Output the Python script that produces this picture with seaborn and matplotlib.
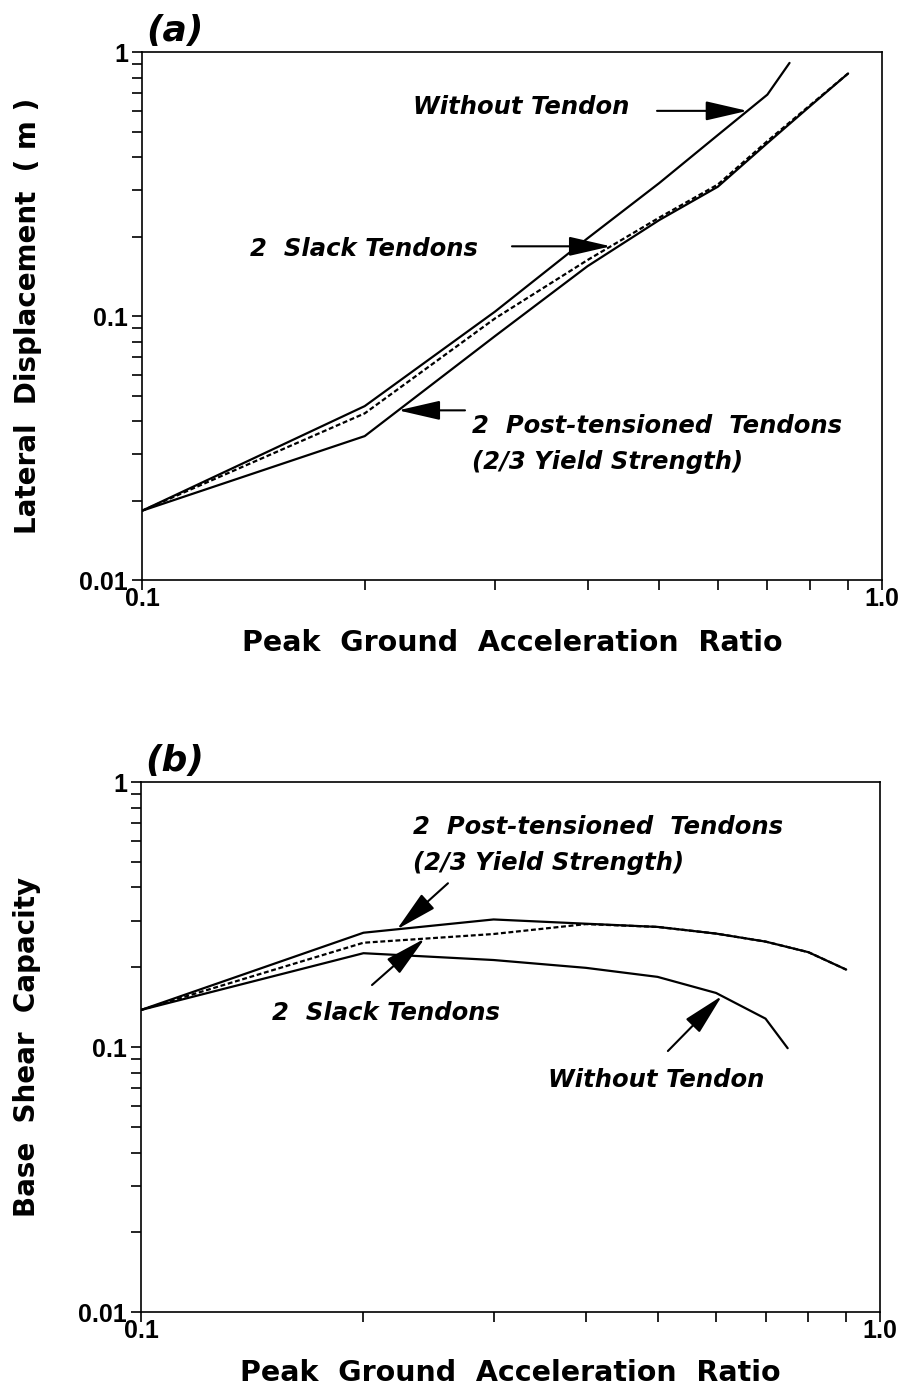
import matplotlib
matplotlib.use("Agg")

import matplotlib.pyplot as plt
import matplotlib.transforms as mtransforms
import numpy as np
import pandas as pd
import seaborn as sns
from matplotlib.ticker import LogLocator, NullFormatter

# peak ground acceleration ratios
PGA = [0.1, 0.2, 0.3, 0.4, 0.5, 0.6, 0.7, 0.8, 0.9]
PGA_NONE = [0.1, 0.2, 0.3, 0.4, 0.5, 0.6, 0.7, 0.75]

# (a) lateral displacement (m)
DISP_NONE = [0.0183, 0.0456, 0.104, 0.197, 0.319, 0.485, 0.69, 0.91]
DISP_SLACK = [0.0183, 0.0428, 0.098, 0.163, 0.236, 0.315, 0.46, 0.63, 0.83]
DISP_POST = [0.0183, 0.0351, 0.084, 0.1545, 0.231, 0.309, 0.452, 0.625, 0.83]

# (b) base shear capacity
SHEAR_NONE = [0.138, 0.226, 0.213, 0.199, 0.184, 0.160, 0.128, 0.099]
SHEAR_SLACK = [0.138, 0.2475, 0.267, 0.291, 0.284, 0.268, 0.25, 0.228, 0.196]
SHEAR_POST = [0.138, 0.270, 0.303, 0.292, 0.284, 0.268, 0.25, 0.228, 0.196]

CASES = ["Without Tendon", "2 Slack Tendons", "2 Post-tensioned Tendons"]

sns.set_style("ticks")
plt.rcParams["font.family"] = ["DejaVu Sans"]
plt.rcParams["font.weight"] = "bold"
plt.rcParams["axes.linewidth"] = 1.2
for key in ("text.color", "axes.labelcolor", "xtick.color", "ytick.color", "axes.edgecolor"):
    plt.rcParams[key] = "black"


def long_frame(none, slack, post):
    parts = [
        pd.DataFrame({"pga": PGA_NONE, "val": none, "case": CASES[0]}),
        pd.DataFrame({"pga": PGA, "val": slack, "case": CASES[1]}),
        pd.DataFrame({"pga": PGA, "val": post, "case": CASES[2]}),
    ]
    return pd.concat(parts, ignore_index=True)


def on_curve(xs, ys, x):
    # point on a log-log polyline, used as arrow tip
    return x, 10 ** np.interp(np.log10(x), np.log10(xs), np.log10(ys))


def style_axes(ax, ylabel):
    ax.set_xscale("log")
    ax.set_yscale("log")
    ax.set_xlim(0.1, 1.0)
    ax.set_ylim(0.01, 1.0)
    ax.set_xticks([0.1, 1.0], labels=["0.1", "1.0"])
    ax.set_yticks([0.01, 0.1, 1.0], labels=["0.01", "0.1", "1"])
    ax.xaxis.set_minor_locator(LogLocator(base=10, subs=np.arange(2, 10)))
    ax.yaxis.set_minor_locator(LogLocator(base=10, subs=np.arange(2, 10)))
    ax.xaxis.set_minor_formatter(NullFormatter())
    ax.yaxis.set_minor_formatter(NullFormatter())
    ax.tick_params(which="both", direction="out", length=7, width=1.2,
                   top=False, right=False, labelfontfamily="Liberation Sans")
    ax.tick_params(axis="x", labelsize=18, pad=-2)
    ax.tick_params(axis="y", labelsize=18, pad=3)
    ax.set_xlabel("Peak  Ground  Acceleration  Ratio", fontsize=20.5, fontweight="bold")
    ax.xaxis.label.set_verticalalignment("center")
    ax.set_ylabel(ylabel, fontsize=20, fontweight="bold")
    ax.yaxis.label.set_verticalalignment("center")
    ax.yaxis.set_label_coords(-0.154, 0.5)
    for sp in ax.spines.values():
        sp.set_visible(True)


ARROW = dict(arrowstyle="-|>,head_length=1.3,head_width=0.3", mutation_scale=20,
             color="k", lw=1.5, shrinkA=0, shrinkB=0)


def arrow(ax, tip, tail):
    ax.annotate("", xy=tip, xycoords="data", xytext=tail, textcoords="axes fraction",
                arrowprops=ARROW)


def flat_arrow(ax, tip, tail_x):
    # horizontal arrow: tail x in axes fraction, same data y as the tip
    trans = mtransforms.blended_transform_factory(ax.transAxes, ax.transData)
    ax.annotate("", xy=tip, xycoords="data", xytext=(tail_x, tip[1]), textcoords=trans,
                arrowprops=ARROW)


def label(ax, x, y, s):
    ax.text(x, y, s, transform=ax.transAxes, fontsize=17.5, fontweight="bold",
            fontstyle="italic", ha="left", va="center")


fig = plt.figure(figsize=(9.06, 13.93), dpi=100)
ax_a = fig.add_axes([0.1567, 0.5836, 0.8168, 0.3790])
ax_b = fig.add_axes([0.1556, 0.0581, 0.8157, 0.3805])

dashes = {CASES[0]: "", CASES[1]: (2.2, 1.2), CASES[2]: ""}
palette = {c: "black" for c in CASES}

for ax, (none, slack, post), ylab in [
    (ax_a, (DISP_NONE, DISP_SLACK, DISP_POST), "Lateral  Displacement  ( m )"),
    (ax_b, (SHEAR_NONE, SHEAR_SLACK, SHEAR_POST), "Base  Shear  Capacity"),
]:
    ax.set_xscale("log")
    ax.set_yscale("log")
    sns.lineplot(data=long_frame(none, slack, post), x="pga", y="val", hue="case",
                 style="case", dashes=dashes, palette=palette, linewidth=1.6,
                 estimator=None, sort=False, legend=False, ax=ax)
    style_axes(ax, ylab)

ax_a.xaxis.set_label_coords(0.5, -0.119)
ax_b.xaxis.set_label_coords(0.5, -0.115)

for ax in (ax_a, ax_b):
    ax.text(0.006, 1.04, "(a)" if ax is ax_a else "(b)", transform=ax.transAxes,
            fontsize=26, fontweight="bold", fontstyle="italic", ha="left", va="center")

# panel (a) annotations
label(ax_a, 0.366, 0.896, "Without Tendon")
flat_arrow(ax_a, on_curve(PGA_NONE, DISP_NONE, 0.658), 0.696)
label(ax_a, 0.146, 0.627, "2  Slack Tendons")
flat_arrow(ax_a, on_curve(PGA, DISP_SLACK, 0.43), 0.50)
label(ax_a, 0.446, 0.2917, "2  Post-tensioned  Tendons")
label(ax_a, 0.446, 0.2235, "(2/3 Yield Strength)")
flat_arrow(ax_a, on_curve(PGA, DISP_POST, 0.222), 0.4365)

# panel (b) annotations
label(ax_b, 0.368, 0.915, "2  Post-tensioned  Tendons")
label(ax_b, 0.368, 0.847, "(2/3 Yield Strength)")
arrow(ax_b, on_curve(PGA, SHEAR_POST, 0.222), (0.4154, 0.809))
label(ax_b, 0.177, 0.564, "2  Slack Tendons")
arrow(ax_b, on_curve(PGA, SHEAR_SLACK, 0.242), (0.3126, 0.617))
label(ax_b, 0.5507, 0.4377, "Without Tendon")
arrow(ax_b, on_curve(PGA_NONE, SHEAR_NONE, 0.611), (0.713, 0.4925))

fig.savefig("out.png", dpi=100, facecolor="white")
